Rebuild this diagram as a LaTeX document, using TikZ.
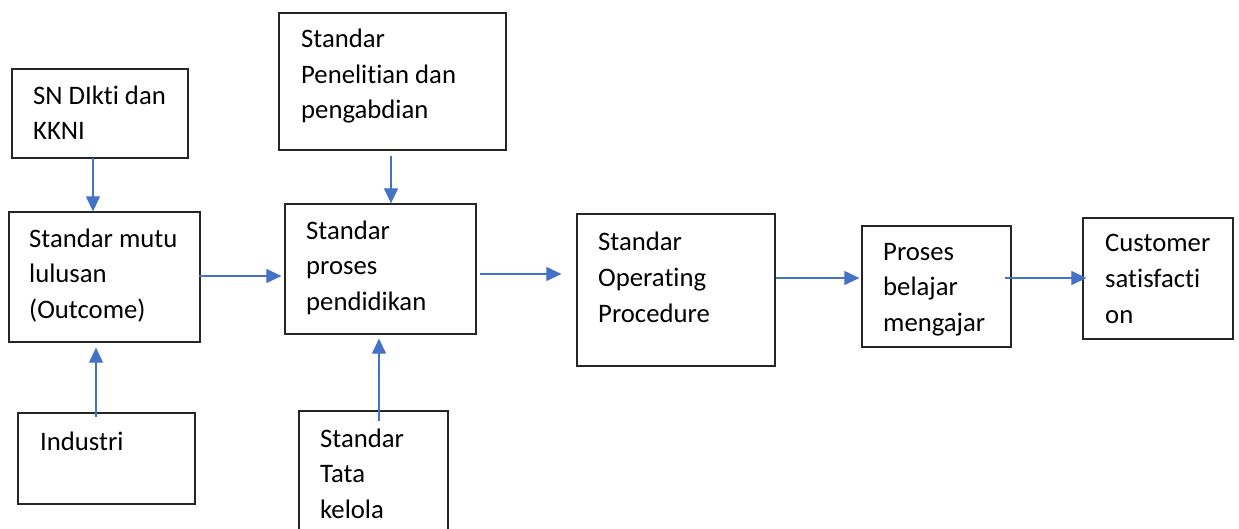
\documentclass[tikz,border=0pt]{standalone}
\usepackage{fontspec}
\setmainfont{Carlito}[Ligatures={NoCommon}]
\usetikzlibrary{arrows.meta}
\definecolor{arrblue}{HTML}{4472C4}
\definecolor{boxline}{HTML}{262626}
\tikzset{
  box/.style={draw=boxline, line width=1.3pt, inner sep=0pt, fill=none},
  txt/.style={anchor=base west, inner sep=0pt, align=left, font=\fontsize{26.7pt}{35.5pt}\selectfont, text=black},
  arr/.style={draw=arrblue, line width=1.2pt, -{Triangle[length=15pt,width=14pt]}}
}
\begin{document}
\begin{tikzpicture}[x=1pt,y=-1pt]
\useasboundingbox (0,0) rectangle (1239,529);
\clip (0,0) rectangle (1239,529);
\fill[white] (0,0) rectangle (1239,529);
% boxes
\node[box, minimum width=176pt, minimum height=89pt] (sn) at (100,113.5) {};
\node[box, minimum width=191pt, minimum height=130pt] (mutu) at (104.5,277) {};
\node[box, minimum width=227pt, minimum height=137pt] (pen) at (392.5,81.5) {};
\node[box, minimum width=191pt, minimum height=130pt] (proses) at (380.5,269) {};
\node[box, minimum width=198pt, minimum height=152pt] (sop) at (676,290) {};
\node[box, minimum width=177pt, minimum height=91pt] (ind) at (106.5,458.5) {};
\node[box, minimum width=149pt, minimum height=149pt] (tata) at (373.5,485.5) {};
\node[box, minimum width=149pt, minimum height=121pt] (pb) at (936.5,286.5) {};
\node[box, minimum width=150pt, minimum height=121pt] (cust) at (1158,278.5) {};
% texts (anchored at the baseline of the last line)
\node[txt] (tsn) at (33,140) {SN DIkti dan\\KKNI};
\node[txt] (tmutu) at (29,318) {Standar mutu\\lulusan\\(Outcome)};
\node[txt] (tpen) at (301,119) {Standar\\Penelitian dan\\pengabdian};
\node[txt] (tproses) at (306,310) {Standar\\proses\\pendidikan};
\node[txt] (tsop) at (598,322) {Standar\\Operating\\Procedure};
\node[txt] (tind) at (40,450) {Industri};
\node[txt] (ttata) at (320,518) {Standar\\Tata\\kelola};
\node[txt] (tpb) at (883,331) {Proses\\belajar\\mengajar};
\node[txt] (tcust) at (1105,323) {Customer\\satisfacti\\on};
% connectors
\draw[arr, shorten <=-1pt] (sn.south -| 93,0) -- (mutu.north -| 93,0);
\draw[arr, shorten <=-5pt, shorten >=5pt] (ind.north -| 96,0) -- (mutu.south -| 96,0);
\draw[arr, shorten <=-2pt, shorten >=3pt] (mutu.east |- 0,276) -- (proses.west |- 0,276);
\draw[arr, shorten <=5pt] (pen.south -| 391,0) -- (proses.north -| 391,0);
\draw[arr, shorten <=-11pt, shorten >=4pt] (tata.north -| 379,0) -- (proses.south -| 379,0);
\draw[arr, shorten <=3pt, shorten >=15pt] (proses.east |- 0,274) -- (sop.west |- 0,274);
\draw[arr, shorten >=2pt] (sop.east |- 0,278) -- (pb.west |- 0,278);
\draw[arr, shorten <=-7pt, shorten >=-4pt] (pb.east |- 0,278) -- (cust.west |- 0,278);
\end{tikzpicture}
\end{document}
